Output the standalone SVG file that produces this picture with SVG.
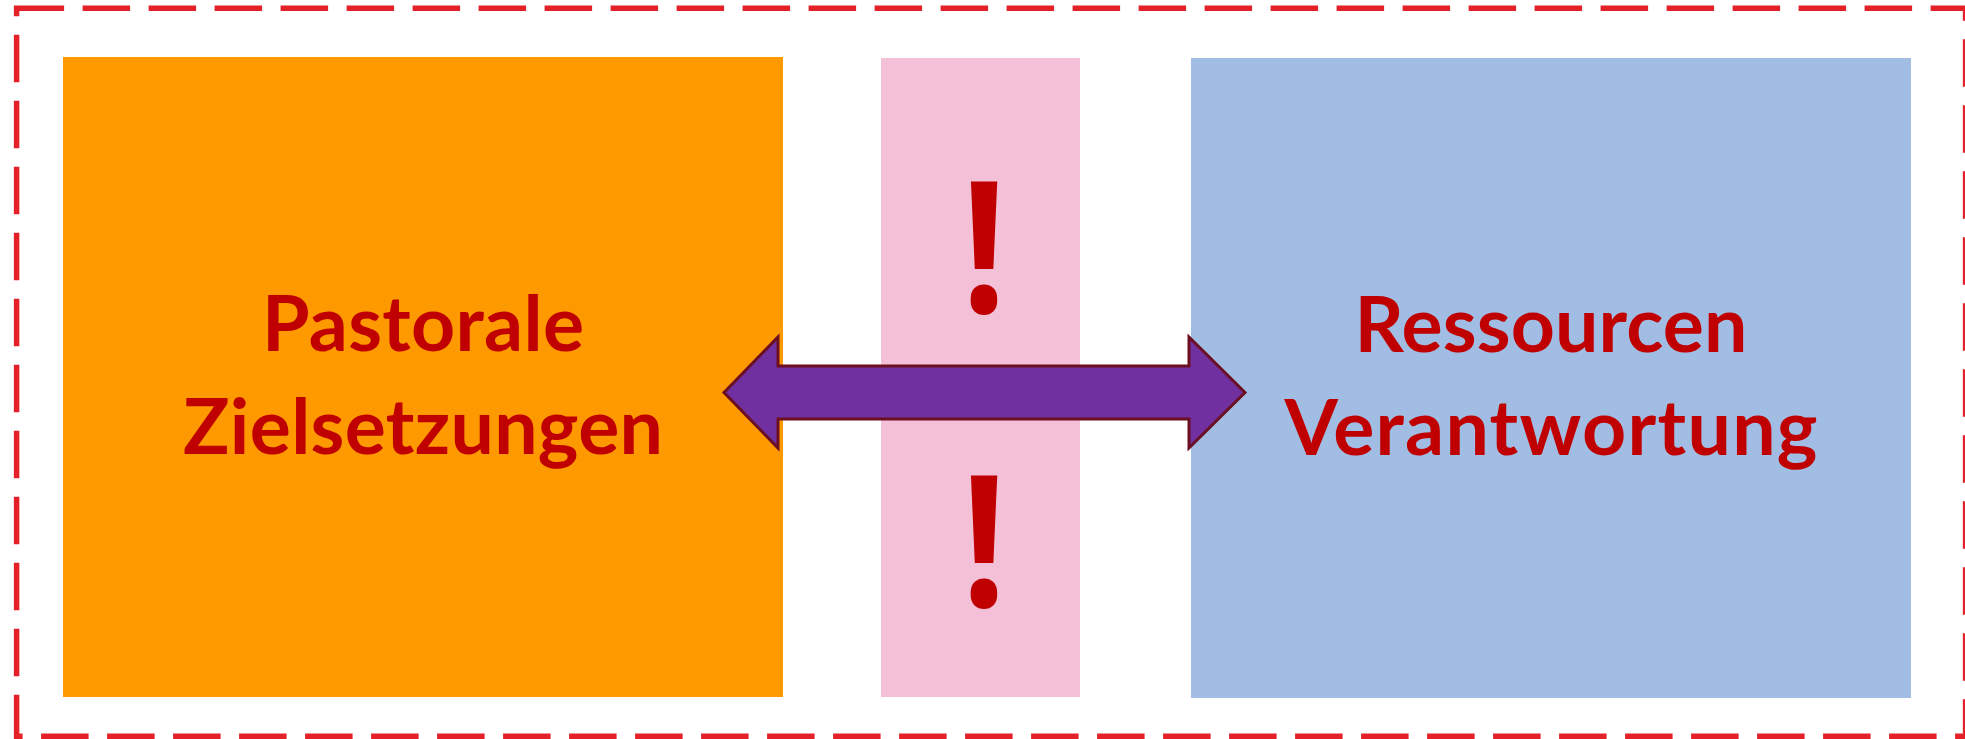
<svg xmlns="http://www.w3.org/2000/svg" width="1965" height="739" viewBox="0 0 1965 739">
  <style>
    .label { font-family: Lato, "Liberation Sans", sans-serif; font-weight: bold; font-size: 77px; fill: #c00000; text-anchor: middle; }
    .bang { font-family: "Open Sans", "Liberation Sans", sans-serif; font-weight: bold; font-size: 183px; fill: #c00000; text-anchor: middle; }
  </style>
  <rect width="1965" height="739" fill="#ffffff"/>

  <!-- dashed outer frame -->
  <rect x="16.6" y="8.3" width="1949" height="728" fill="none" stroke="#e42129" stroke-width="5.5" stroke-dasharray="47.5 18.5"/>

  <g id="pastorale">
    <rect x="63" y="57" width="720" height="640" fill="#ff9900"/>
    <text class="label" x="423" y="351" textLength="322">Pastorale</text>
    <text class="label" x="423" y="454" textLength="480">Zielsetzungen</text>
  </g>

  <g id="spannung">
    <rect x="881" y="58" width="199" height="639" fill="#f3c0d7"/>
    <!-- exclamation marks, slightly condensed -->
    <text class="bang" transform="translate(984 313) scale(0.85 1)">!</text>
    <text class="bang" transform="translate(984 607) scale(0.85 1)">!</text>
  </g>

  <g id="ressourcen">
    <rect x="1191" y="58" width="720" height="640" fill="#a1bde3"/>
    <text class="label" x="1551" y="352" textLength="393">Ressourcen</text>
    <text class="label" x="1551" y="455" textLength="533">Verantwortung</text>
  </g>

  <g id="connectors">
    <polygon points="724,392.5 778,337 778,366 1189,366 1189,337 1245,392.5 1189,448 1189,419 778,419 778,448" fill="#7030a0" stroke="#6b0f22" stroke-width="3" stroke-linejoin="miter"/>
  </g>
</svg>
